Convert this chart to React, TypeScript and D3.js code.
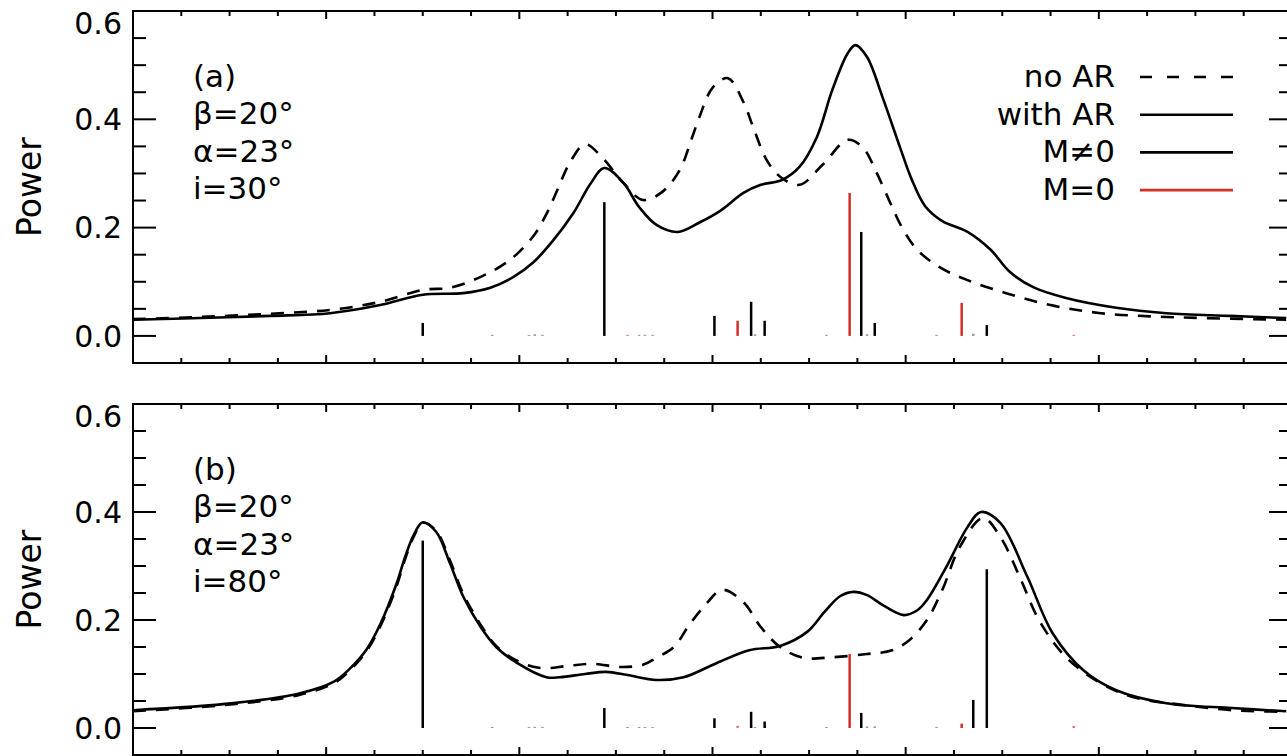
import React from 'react';
import * as d3 from 'd3';

const WIDTH = 1287;
const HEIGHT = 756;
const FONT = '"DejaVu Sans", sans-serif';
const RED = '#d22f27';

// mode frequencies (arbitrary units), azimuthal order flag and stick heights per panel
const modeFreq = [1.5, 1.86, 2.05, 2.08, 2.12, 2.44, 2.56, 2.62, 2.65, 2.69, 3.01, 3.13, 3.2, 3.22, 3.27, 3.59, 3.71, 3.77, 3.8, 3.84, 4.16, 4.29, 4.35, 4.42, 4.87];
const modeZonal = [false, false, false, false, false, false, true, false, false, false, false, true, false, false, false, false, true, false, false, false, false, true, false, false, true];
const modePowerA = [0.024, 0.002, 0.002, 0.003, 0.002, 0.247, 0.002, 0.002, 0.002, 0.002, 0.037, 0.028, 0.063, 0.003, 0.028, 0.002, 0.264, 0.192, 0.003, 0.024, 0.002, 0.061, 0.004, 0.02, 0.002];
const modePowerB = [0.347, 0.002, 0.002, 0.002, 0.002, 0.037, 0.002, 0.002, 0.002, 0.002, 0.018, 0.004, 0.03, 0.002, 0.012, 0.002, 0.137, 0.028, 0.003, 0.003, 0.002, 0.008, 0.052, 0.294, 0.004];

// smoothed spectra [freq, power]
const noArA: [number, number][] = [
  [0, 0.031], [0.35, 0.035], [0.71, 0.041], [1.02, 0.048], [1.28, 0.063], [1.5, 0.085], [1.64, 0.089],
  [1.8, 0.109], [1.95, 0.14], [2.07, 0.183], [2.14, 0.225], [2.2, 0.272], [2.26, 0.319], [2.34, 0.354],
  [2.43, 0.329], [2.54, 0.282], [2.64, 0.251], [2.74, 0.266], [2.83, 0.306], [2.89, 0.362], [2.93, 0.402],
  [3.0, 0.458], [3.08, 0.476], [3.16, 0.432], [3.21, 0.386], [3.28, 0.325], [3.35, 0.294], [3.45, 0.279],
  [3.57, 0.316], [3.7, 0.362], [3.78, 0.347], [3.85, 0.301], [3.92, 0.246], [3.98, 0.201], [4.06, 0.159],
  [4.18, 0.126], [4.32, 0.103], [4.52, 0.079], [4.75, 0.057], [5.01, 0.042], [5.35, 0.035], [5.97, 0.03],
];
const withArA: [number, number][] = [
  [0, 0.03], [0.35, 0.033], [0.71, 0.037], [1.02, 0.042], [1.28, 0.057], [1.5, 0.076], [1.71, 0.079],
  [1.85, 0.089], [1.97, 0.109], [2.07, 0.135], [2.17, 0.174], [2.28, 0.227], [2.37, 0.282], [2.44, 0.31],
  [2.54, 0.282], [2.62, 0.238], [2.71, 0.205], [2.82, 0.192], [2.93, 0.209], [3.04, 0.231], [3.16, 0.264],
  [3.25, 0.279], [3.36, 0.288], [3.45, 0.312], [3.54, 0.367], [3.62, 0.454], [3.7, 0.522], [3.74, 0.537],
  [3.8, 0.515], [3.88, 0.441], [3.97, 0.349], [4.03, 0.29], [4.1, 0.24], [4.19, 0.212], [4.32, 0.192],
  [4.44, 0.159], [4.54, 0.118], [4.66, 0.09], [4.83, 0.07], [5.09, 0.052], [5.35, 0.042], [5.68, 0.037],
  [5.97, 0.033],
];
const noArB: [number, number][] = [
  [0, 0.031], [0.52, 0.044], [0.86, 0.061], [1.04, 0.083], [1.12, 0.106], [1.21, 0.143], [1.28, 0.188],
  [1.36, 0.258], [1.41, 0.314], [1.45, 0.352], [1.5, 0.38], [1.57, 0.365], [1.64, 0.311], [1.71, 0.248],
  [1.8, 0.191], [1.88, 0.152], [1.98, 0.126], [2.11, 0.111], [2.25, 0.115], [2.38, 0.119], [2.52, 0.113],
  [2.64, 0.117], [2.71, 0.13], [2.8, 0.15], [2.88, 0.191], [2.97, 0.231], [3.05, 0.256], [3.16, 0.233],
  [3.25, 0.187], [3.35, 0.15], [3.47, 0.13], [3.62, 0.131], [3.8, 0.137], [3.93, 0.144], [4.02, 0.163],
  [4.11, 0.2], [4.19, 0.256], [4.28, 0.335], [4.4, 0.389], [4.49, 0.354], [4.59, 0.28], [4.69, 0.2],
  [4.83, 0.131], [5.01, 0.083], [5.18, 0.057], [5.43, 0.043], [5.69, 0.033], [5.97, 0.03],
];
const withArB: [number, number][] = [
  [0, 0.033], [0.52, 0.046], [0.86, 0.064], [1.04, 0.086], [1.12, 0.109], [1.21, 0.146], [1.28, 0.192],
  [1.36, 0.263], [1.41, 0.318], [1.45, 0.355], [1.5, 0.381], [1.57, 0.363], [1.64, 0.306], [1.71, 0.243],
  [1.8, 0.187], [1.88, 0.15], [1.99, 0.12], [2.14, 0.094], [2.21, 0.094], [2.34, 0.1], [2.45, 0.104],
  [2.56, 0.098], [2.71, 0.089], [2.85, 0.094], [3.02, 0.12], [3.19, 0.144], [3.35, 0.152], [3.49, 0.178],
  [3.58, 0.215], [3.66, 0.244], [3.73, 0.252], [3.8, 0.246], [3.88, 0.228], [3.99, 0.209], [4.06, 0.218],
  [4.11, 0.237], [4.21, 0.298], [4.32, 0.372], [4.39, 0.4], [4.49, 0.38], [4.63, 0.28], [4.76, 0.176],
  [4.92, 0.107], [5.09, 0.07], [5.35, 0.046], [5.69, 0.037], [5.97, 0.031],
];

const yMajorTicks = [0, 0.2, 0.4, 0.6];
const yTickLabels = ['0.0', '0.2', '0.4', '0.6'];
const legendLabels = ['no AR', 'with AR', 'M≠0', 'M=0'];
const notesA = ['(a)', 'β=20°', 'α=23°', 'i=30°'];
const notesB = ['(b)', 'β=20°', 'α=23°', 'i=80°'];

type PanelProps = {
  top: number;
  bottom: number;
  noAr: [number, number][];
  withAr: [number, number][];
  modePower: number[];
  notes: string[];
  legend?: boolean;
};

const Panel = ({ top, bottom, noAr, withAr, modePower, notes, legend }: PanelProps) => {
  const x = d3.scaleLinear().domain([0, 6]).range([133, 1292]);
  const y = d3.scaleLinear().domain([-0.05, 0.6]).range([bottom, top]);
  const line = d3
    .line<[number, number]>()
    .x((d) => x(d[0]))
    .y((d) => y(d[1]))
    .curve(d3.curveCatmullRom.alpha(0.5));

  const xTicks = d3.range(0, 6.001, 0.25);
  const yTicks = d3.range(-0.05, 0.6001, 0.05);
  const isMajorX = (v: number) => Math.abs(v - Math.round(v)) < 1e-6;
  const isMajorY = (v: number) => Math.abs(v / 0.2 - Math.round(v / 0.2)) < 1e-6;
  const [x0, x1] = x.range();

  return (
    <g>
      {/* frame */}
      <rect x={x0} y={top} width={x1 - x0} height={bottom - top} fill="none" stroke="#000" strokeWidth={2} />

      {/* y ticks, left and right */}
      {yTicks.map((v, i) => {
        const len = isMajorY(v) ? 23 : 13;
        return (
          <g key={`yt-${i}`} stroke="#000" strokeWidth={2}>
            <line x1={x0} x2={x0 + len} y1={y(v)} y2={y(v)} />
            <line x1={x1} x2={x1 - len} y1={y(v)} y2={y(v)} />
          </g>
        );
      })}
      {yMajorTicks.map((v, i) => (
        <text
          key={`yl-${i}`}
          x={122}
          y={Math.max(y(v), top + 12)}
          dy="0.36em"
          textAnchor="end"
          fontFamily={FONT}
          fontSize={30}
          fill="#000"
        >
          {yTickLabels[i]}
        </text>
      ))}

      {/* x ticks, bottom and top */}
      {xTicks.map((v, i) => {
        const len = isMajorX(v) ? 8 : 5;
        return (
          <g key={`xt-${i}`} stroke="#000" strokeWidth={2}>
            <line x1={x(v)} x2={x(v)} y1={bottom} y2={bottom - len} />
            <line x1={x(v)} x2={x(v)} y1={top} y2={top + len} />
          </g>
        );
      })}

      <text
        transform={`translate(41, ${(top + bottom) / 2}) rotate(-90)`}
        textAnchor="middle"
        fontFamily={FONT}
        fontSize={33}
        fill="#000"
      >
        Power
      </text>

      {/* mode sticks */}
      {modeFreq.map((f, i) => (
        <line
          key={`m-${i}`}
          x1={x(f)}
          x2={x(f)}
          y1={y(0)}
          y2={y(modePower[i])}
          stroke={modePower[i] < 0.005 ? (modeZonal[i] ? '#e07a74' : '#9a9a9a') : modeZonal[i] ? RED : '#000'}
          strokeWidth={2.5}
        />
      ))}

      {/* spectra */}
      <path d={line(noAr) ?? ''} fill="none" stroke="#000" strokeWidth={2.6} strokeDasharray="13 10" />
      <path d={line(withAr) ?? ''} fill="none" stroke="#000" strokeWidth={2.6} />

      {/* annotation */}
      {notes.map((t, i) => (
        <text key={`n-${i}`} x={193} y={top + 76 + i * 37.3} fontFamily={FONT} fontSize={31} fill="#000">
          {t}
        </text>
      ))}

      {legend &&
        legendLabels.map((t, i) => {
          const ly = top + 66 + i * 37.7;
          return (
            <g key={`lg-${i}`}>
              <text x={1115} y={ly + 10} textAnchor="end" fontFamily={FONT} fontSize={31} fill="#000">
                {t}
              </text>
              <line
                x1={1140}
                x2={1233}
                y1={ly}
                y2={ly}
                stroke={i === 3 ? RED : '#000'}
                strokeWidth={2.6}
                strokeDasharray={i === 0 ? '12 15' : undefined}
              />
            </g>
          );
        })}
    </g>
  );
};

export default function App() {
  return (
    <svg
      width={WIDTH}
      height={HEIGHT}
      viewBox={`0 0 ${WIDTH} ${HEIGHT}`}
      style={{ position: 'absolute', left: 0, top: 0, display: 'block', background: '#fff' }}
    >
      <Panel top={11} bottom={363} noAr={noArA} withAr={withArA} modePower={modePowerA} notes={notesA} legend />
      <Panel top={404} bottom={755} noAr={noArB} withAr={withArB} modePower={modePowerB} notes={notesB} />
    </svg>
  );
}
